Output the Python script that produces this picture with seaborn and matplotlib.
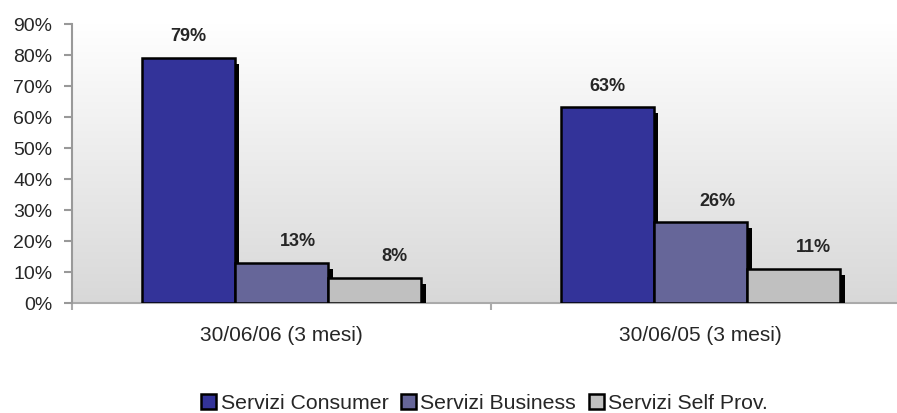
import numpy as np
import pandas as pd
import matplotlib
matplotlib.use("Agg")
import matplotlib.pyplot as plt
import matplotlib.transforms as mtransforms
from matplotlib.colors import LinearSegmentedColormap
import seaborn as sns

categories = ["30/06/06 (3 mesi)", "30/06/05 (3 mesi)"]
series = ["Servizi Consumer", "Servizi Business", "Servizi Self Prov."]
consumer = [79, 63]
business = [13, 26]
self_prov = [8, 11]
colors = ["#333399", "#666699", "#C0C0C0"]

rows = []
for name, vals in zip(series, [consumer, business, self_prov]):
    for c, v in zip(categories, vals):
        rows.append({"period": c, "series": name, "value": v})
df = pd.DataFrame(rows)

sns.set_theme(style="white")
plt.rcParams["font.family"] = ["Liberation Sans", "DejaVu Sans"]

fig = plt.figure(figsize=(8.97, 4.14), dpi=100)
ax = fig.add_axes([72 / 897, 1 - 304 / 414, 1 - 72 / 897, (304 - 24.5) / 414])

# gradient background
grad = np.linspace(0, 1, 256).reshape(-1, 1)
cmap = LinearSegmentedColormap.from_list("bg", ["#ffffff", "#d8d8d8"])
ax.imshow(grad, aspect="auto", cmap=cmap, extent=[0, 1, 0, 1],
          transform=ax.transAxes, zorder=0)

# shadows
sns.barplot(data=df, x="period", y="value", hue="series",
            palette=["black"] * 3, width=0.668, gap=0, legend=False,
            linewidth=0, ax=ax, zorder=1, errorbar=None, saturation=1)
shift = mtransforms.ScaledTranslation(4.5 / 100, -6 / 100, fig.dpi_scale_trans)
for p in list(ax.patches):
    p.set_transform(ax.transData + shift)
n_shadow = len(ax.patches)

sns.barplot(data=df, x="period", y="value", hue="series",
            palette=colors, width=0.668, gap=0, edgecolor="black",
            linewidth=1.8, ax=ax, zorder=2, errorbar=None, saturation=1)

ax.set_xlim(-0.5, -0.5 + 825 / 419)
ax.set_ylim(0, 90)
ax.set_yticks(range(0, 91, 10))
ax.set_yticklabels([f"{v}%" for v in range(0, 91, 10)], fontsize=14)
ax.set_xticks([0, 1])
ax.set_xticklabels(categories, fontsize=15)
ax.set_xticks([-0.5, 0.5], minor=True)
ax.tick_params(axis="x", which="major", length=0, pad=16)
ax.tick_params(axis="x", which="minor", length=5, color="#aaaaaa", width=1.5, bottom=True)
ax.tick_params(axis="y", length=6, color="#999999", width=1.5, left=True, pad=8)
ax.set_xlabel("")
ax.set_ylabel("")
for s in ["top", "right"]:
    ax.spines[s].set_visible(False)
ax.spines["left"].set_color("#999999")
ax.spines["left"].set_linewidth(1.5)
ax.spines["bottom"].set_color("#aaaaaa")
ax.spines["bottom"].set_linewidth(1.5)
ax.spines["bottom"].set_zorder(0.5)

# value labels
offsets = [0, 12, 14]
main_bars = ax.patches[n_shadow:]
for i, name in enumerate(series):
    vals = [consumer, business, self_prov][i]
    for j, v in enumerate(vals):
        bar = main_bars[i * len(categories) + j]
        xc = bar.get_x() + bar.get_width() / 2
        ax.annotate(f"{v}%", (xc, v), xytext=(offsets[i], 16),
                    textcoords="offset points", ha="center", va="center",
                    fontsize=13, fontweight="bold", zorder=5)

handles, labels = ax.get_legend_handles_labels()
if ax.get_legend():
    ax.get_legend().remove()
fig.legend(handles, labels, loc="center", bbox_to_anchor=(484.5 / 897, 1 - 404 / 414),
           ncol=3, frameon=False, fontsize=15.3, handlelength=0.7, handleheight=0.7,
           handletextpad=0.2, columnspacing=0.6, borderpad=0, borderaxespad=0)

fig.savefig("out.png", dpi=100)
